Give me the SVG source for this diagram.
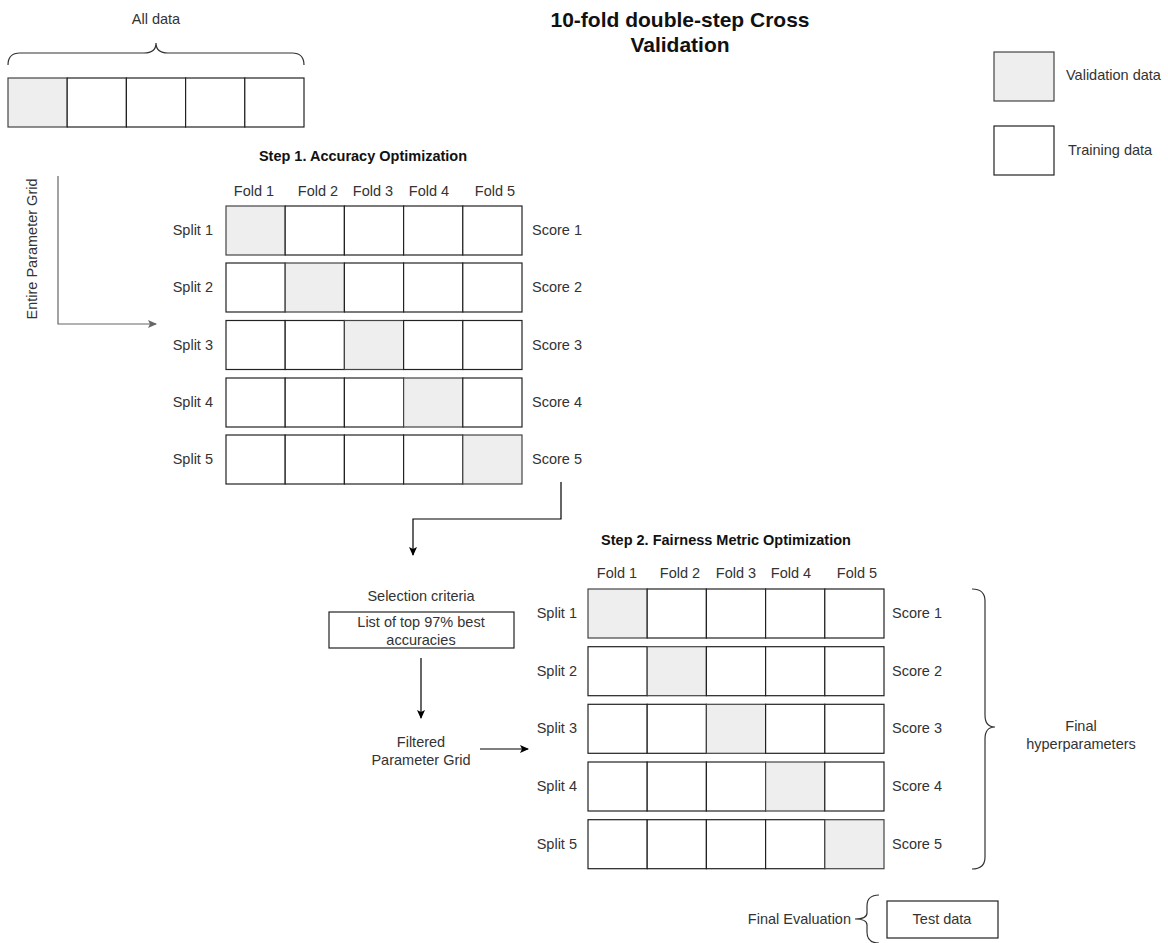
<svg xmlns="http://www.w3.org/2000/svg" width="1168" height="943" viewBox="0 0 1168 943">
<style>
text{font-family:"Liberation Sans",Arial,sans-serif;font-size:14.5px;fill:#333;}
.title{font-size:21px;font-weight:bold;fill:#111;text-anchor:middle;}
.hdr{font-weight:bold;fill:#111;text-anchor:middle;}
.c{text-anchor:middle;}
.e{text-anchor:end;}
.cell{fill:#fff;stroke:#222;stroke-width:1.2;}
.val{fill:#eeeeee;stroke:#444;stroke-width:1.2;}
.brace{fill:none;stroke:#333;stroke-width:1.2;}
.ln{fill:none;stroke:#000;stroke-width:1.2;}
.gln{fill:none;stroke:#666;stroke-width:1.2;}
</style>
<defs>
<marker id="ab" markerWidth="10" markerHeight="10" refX="8" refY="5" orient="auto" markerUnits="userSpaceOnUse"><path d="M0,1 L9,5 L0,9 L2,5 Z" fill="#000"/></marker>
<marker id="ag" markerWidth="10" markerHeight="10" refX="8" refY="5" orient="auto" markerUnits="userSpaceOnUse"><path d="M0,1 L9,5 L0,9 L2,5 Z" fill="#666"/></marker>
</defs>
<rect width="1168" height="943" fill="#fff"/>

<g id="title">
<text class="title" x="680" y="27">10-fold double-step Cross</text>
<text class="title" x="680" y="52">Validation</text>
</g>

<g id="alldata">
<text class="c" x="156" y="24">All data</text>
<path class="brace" d="M8 65 Q8 53 20 53 L144 53 Q156 53 156 43 Q156 53 168 53 L292 53 Q304 53 304 65"/>
<rect class="val" x="8" y="78" width="59.2" height="49"/>
<rect class="cell" x="67.2" y="78" width="59.2" height="49"/>
<rect class="cell" x="126.4" y="78" width="59.2" height="49"/>
<rect class="cell" x="185.6" y="78" width="59.2" height="49"/>
<rect class="cell" x="244.8" y="78" width="59.2" height="49"/>
</g>

<g id="legend">
<rect class="val" x="994" y="52" width="60" height="49"/>
<text x="1066" y="80">Validation data</text>
<rect class="cell" x="994" y="126" width="60" height="49"/>
<text x="1068" y="155">Training data</text>
</g>

<g id="step1">
<text class="hdr" x="363" y="161">Step 1. Accuracy Optimization</text>
<text class="c" x="254" y="196">Fold 1</text>
<text class="c" x="318" y="196">Fold 2</text>
<text class="c" x="373" y="196">Fold 3</text>
<text class="c" x="429" y="196">Fold 4</text>
<text class="c" x="495" y="196">Fold 5</text>
<g id="s1r1">
<text class="e" x="213" y="235">Split 1</text>
<rect class="val" x="226" y="206" width="59.2" height="49"/>
<rect class="cell" x="285.2" y="206" width="59.2" height="49"/>
<rect class="cell" x="344.4" y="206" width="59.2" height="49"/>
<rect class="cell" x="403.6" y="206" width="59.2" height="49"/>
<rect class="cell" x="462.8" y="206" width="59.2" height="49"/>
<text x="532" y="235">Score 1</text>
</g>
<g id="s1r2">
<text class="e" x="213" y="292">Split 2</text>
<rect class="cell" x="226" y="263" width="59.2" height="49"/>
<rect class="val" x="285.2" y="263" width="59.2" height="49"/>
<rect class="cell" x="344.4" y="263" width="59.2" height="49"/>
<rect class="cell" x="403.6" y="263" width="59.2" height="49"/>
<rect class="cell" x="462.8" y="263" width="59.2" height="49"/>
<text x="532" y="292">Score 2</text>
</g>
<g id="s1r3">
<text class="e" x="213" y="350">Split 3</text>
<rect class="cell" x="226" y="320.5" width="59.2" height="49"/>
<rect class="cell" x="285.2" y="320.5" width="59.2" height="49"/>
<rect class="val" x="344.4" y="320.5" width="59.2" height="49"/>
<rect class="cell" x="403.6" y="320.5" width="59.2" height="49"/>
<rect class="cell" x="462.8" y="320.5" width="59.2" height="49"/>
<text x="532" y="350">Score 3</text>
</g>
<g id="s1r4">
<text class="e" x="213" y="407">Split 4</text>
<rect class="cell" x="226" y="378" width="59.2" height="49"/>
<rect class="cell" x="285.2" y="378" width="59.2" height="49"/>
<rect class="cell" x="344.4" y="378" width="59.2" height="49"/>
<rect class="val" x="403.6" y="378" width="59.2" height="49"/>
<rect class="cell" x="462.8" y="378" width="59.2" height="49"/>
<text x="532" y="407">Score 4</text>
</g>
<g id="s1r5">
<text class="e" x="213" y="464">Split 5</text>
<rect class="cell" x="226" y="435" width="59.2" height="49"/>
<rect class="cell" x="285.2" y="435" width="59.2" height="49"/>
<rect class="cell" x="344.4" y="435" width="59.2" height="49"/>
<rect class="cell" x="403.6" y="435" width="59.2" height="49"/>
<rect class="val" x="462.8" y="435" width="59.2" height="49"/>
<text x="532" y="464">Score 5</text>
</g>
</g>

<g id="entire-grid">
<text class="c" transform="translate(37 249) rotate(-90)">Entire Parameter Grid</text>
</g>

<g id="selection">
<text class="c" x="421" y="601">Selection criteria</text>
<rect class="cell" x="329" y="612" width="185" height="36"/>
<text class="c" x="421" y="627">List of top 97% best</text>
<text class="c" x="421" y="645">accuracies</text>
</g>

<g id="filtered">
<text class="c" x="421" y="747">Filtered</text>
<text class="c" x="421" y="765">Parameter Grid</text>
</g>

<g id="step2">
<text class="hdr" x="726" y="545">Step 2. Fairness Metric Optimization</text>
<text class="c" x="617" y="578">Fold 1</text>
<text class="c" x="680" y="578">Fold 2</text>
<text class="c" x="736" y="578">Fold 3</text>
<text class="c" x="791" y="578">Fold 4</text>
<text class="c" x="857" y="578">Fold 5</text>
<g id="s2r1">
<text class="e" x="577" y="618">Split 1</text>
<rect class="val" x="588" y="589" width="59.2" height="49"/>
<rect class="cell" x="647.2" y="589" width="59.2" height="49"/>
<rect class="cell" x="706.4" y="589" width="59.2" height="49"/>
<rect class="cell" x="765.6" y="589" width="59.2" height="49"/>
<rect class="cell" x="824.8" y="589" width="59.2" height="49"/>
<text x="892" y="618">Score 1</text>
</g>
<g id="s2r2">
<text class="e" x="577" y="676">Split 2</text>
<rect class="cell" x="588" y="646.7" width="59.2" height="49"/>
<rect class="val" x="647.2" y="646.7" width="59.2" height="49"/>
<rect class="cell" x="706.4" y="646.7" width="59.2" height="49"/>
<rect class="cell" x="765.6" y="646.7" width="59.2" height="49"/>
<rect class="cell" x="824.8" y="646.7" width="59.2" height="49"/>
<text x="892" y="676">Score 2</text>
</g>
<g id="s2r3">
<text class="e" x="577" y="733">Split 3</text>
<rect class="cell" x="588" y="704.3" width="59.2" height="49"/>
<rect class="cell" x="647.2" y="704.3" width="59.2" height="49"/>
<rect class="val" x="706.4" y="704.3" width="59.2" height="49"/>
<rect class="cell" x="765.6" y="704.3" width="59.2" height="49"/>
<rect class="cell" x="824.8" y="704.3" width="59.2" height="49"/>
<text x="892" y="733">Score 3</text>
</g>
<g id="s2r4">
<text class="e" x="577" y="791">Split 4</text>
<rect class="cell" x="588" y="762" width="59.2" height="49"/>
<rect class="cell" x="647.2" y="762" width="59.2" height="49"/>
<rect class="cell" x="706.4" y="762" width="59.2" height="49"/>
<rect class="val" x="765.6" y="762" width="59.2" height="49"/>
<rect class="cell" x="824.8" y="762" width="59.2" height="49"/>
<text x="892" y="791">Score 4</text>
</g>
<g id="s2r5">
<text class="e" x="577" y="849">Split 5</text>
<rect class="cell" x="588" y="819.7" width="59.2" height="49"/>
<rect class="cell" x="647.2" y="819.7" width="59.2" height="49"/>
<rect class="cell" x="706.4" y="819.7" width="59.2" height="49"/>
<rect class="cell" x="765.6" y="819.7" width="59.2" height="49"/>
<rect class="val" x="824.8" y="819.7" width="59.2" height="49"/>
<text x="892" y="849">Score 5</text>
</g>
</g>

<g id="final-hyper">
<path class="brace" d="M972 589 Q985 589 985 601 L985 715 Q985 727 995 727 Q985 727 985 739 L985 857 Q985 869 972 869"/>
<text class="c" x="1081" y="731">Final</text>
<text class="c" x="1081" y="749">hyperparameters</text>
</g>

<g id="final-eval">
<text class="e" x="851" y="924">Final Evaluation</text>
<path class="brace" d="M879 895 Q867 895 867 906 L867 913 Q867 919 855 919 Q867 919 867 925 L867 932 Q867 943 879 943"/>
<rect class="cell" x="887" y="901" width="111" height="37"/>
<text class="c" x="942" y="924">Test data</text>
</g>

<g id="connectors">
<path class="gln" d="M58 176 L58 324 L156 324" marker-end="url(#ag)"/>
<path class="ln" d="M561 482 L561 519 L413 519 L413 555" marker-end="url(#ab)"/>
<path class="ln" d="M421 658 L421 718" marker-end="url(#ab)"/>
<path class="ln" d="M480 749 L528 749" marker-end="url(#ab)"/>
</g>
</svg>
